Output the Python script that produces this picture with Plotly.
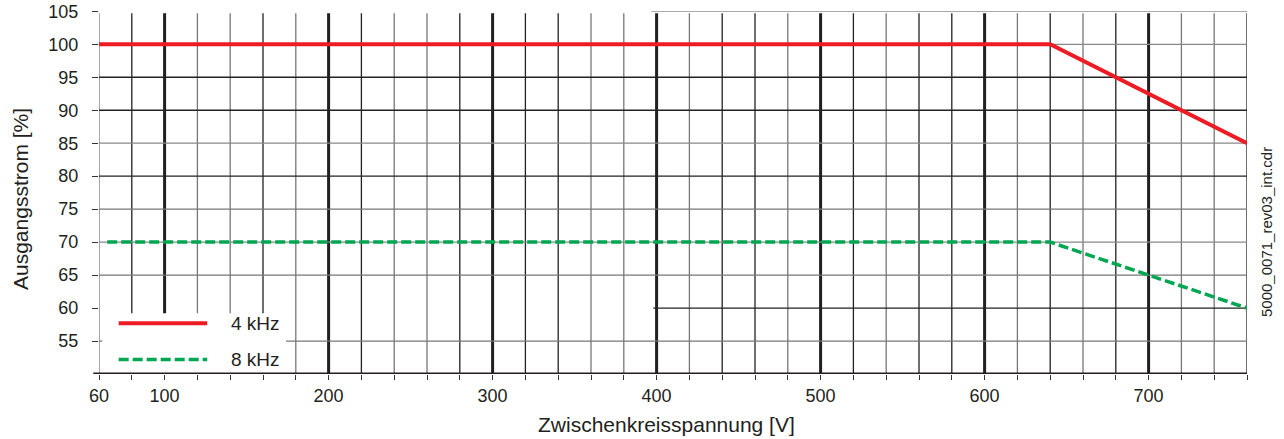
import plotly.graph_objects as go

# Kennlinien (Ausgangsstrom ueber Zwischenkreisspannung)
spannung_4khz = [60, 640, 760]
strom_4khz = [100, 100, 85]
spannung_8khz = [65, 640, 760]
strom_8khz = [70, 70, 60]

serien = ['4 kHz', '8 kHz']
farben = ['#ED1C24', '#00A651']

x_ticks = list(range(60, 761, 20))
y_ticks = list(range(55, 106, 5))

FONT = 'Liberation Sans, Arial, sans-serif'
INK = '#231f20'

fig = go.Figure()

fig.add_trace(go.Scatter(x=spannung_4khz, y=strom_4khz, mode='lines', name=serien[0],
                         line=dict(color=farben[0], width=4), showlegend=False))
fig.add_trace(go.Scatter(x=spannung_8khz, y=strom_8khz, mode='lines', name=serien[1],
                         line=dict(color=farben[1], width=3.5, dash='10px,4px'), showlegend=False))

shapes = []
# vertikale Gitterlinien
grau = ['#777', '#222', '#222', '#777', '#777', '#222']
for i, xv in enumerate(x_ticks):
    if xv % 100 == 0:
        shapes.append(dict(type='line', xref='x', yref='y', x0=xv, x1=xv, y0=50, y1=104.7,
                           line=dict(color=INK, width=3), layer='below'))
    else:
        shapes.append(dict(type='line', xref='x', yref='y', x0=xv, x1=xv, y0=50, y1=104.7,
                           line=dict(color=grau[i % len(grau)], width=1.3), layer='below'))

# horizontale Gitterlinien
h_farben = {55: '#777', 60: '#222', 65: '#777', 70: '#888', 75: '#777', 80: '#222',
            85: '#888', 90: '#222', 95: '#222', 100: '#888', 105: '#aaa'}
for yv in y_ticks:
    x0 = 60
    x1 = 760
    if yv == 105:
        x0 = 397
    if yv == 60:
        x0 = 398
        x1 = 763
    shapes.append(dict(type='line', xref='x', yref='y', x0=x0, x1=x1, y0=yv, y1=yv,
                       line=dict(color=h_farben[yv], width=1.3), layer='below'))

# weisser Legendenbereich
shapes.append(dict(type='rect', xref='x', yref='y', x0=62, x1=174, y0=50, y1=59.2,
                   fillcolor='white', line=dict(width=0), layer='below'))

# x-Achse
shapes.append(dict(type='line', xref='paper', yref='y', x0=-0.005, x1=1, y0=50, y1=50,
                   line=dict(color=INK, width=3), layer='above'))

# Legende
shapes.append(dict(type='line', xref='x', yref='y', x0=72, x1=126, y0=57.7, y1=57.7,
                   line=dict(color=farben[0], width=4)))
shapes.append(dict(type='line', xref='x', yref='y', x0=72, x1=126, y0=52.2, y1=52.2,
                   line=dict(color=farben[1], width=3.5, dash='10px,4px')))

annotations = [
    dict(x=139, y=57.7, xref='x', yref='y', text=serien[0], showarrow=False,
         xanchor='left', yanchor='middle', font=dict(family=FONT, size=19, color=INK)),
    dict(x=139, y=52.2, xref='x', yref='y', text=serien[1], showarrow=False,
         xanchor='left', yanchor='middle', font=dict(family=FONT, size=19, color=INK)),
    dict(x=(1266 - 99) / 1148, y=(374 - 232) / 363, xref='paper', yref='paper',
         text='5000_0071_rev03_int.cdr', showarrow=False, textangle=-90,
         xanchor='center', yanchor='middle',
         font=dict(family=FONT, size=15, color=INK)),
    dict(x=(666 - 99) / 1148, y=(374 - 424) / 363, xref='paper', yref='paper',
         text='Zwischenkreisspannung [V]', showarrow=False, xanchor='center', yanchor='middle',
         font=dict(family=FONT, size=21, color=INK)),
    dict(x=(20 - 99) / 1148, y=(374 - 199) / 363, xref='paper', yref='paper',
         text='Ausgangsstrom [%]', showarrow=False, textangle=-90,
         xanchor='center', yanchor='middle',
         font=dict(family=FONT, size=21, color=INK)),
]

fig.update_layout(
    width=1284, height=439,
    margin=dict(l=99, r=37, t=11, b=65, autoexpand=False),
    paper_bgcolor='white', plot_bgcolor='white',
    font=dict(family=FONT, size=18, color=INK),
    shapes=shapes,
    annotations=annotations,
    showlegend=False,
)

fig.update_xaxes(
    range=[60, 760], showgrid=False, zeroline=False, showline=False, automargin=False,
    tickmode='array', tickvals=x_ticks,
    ticktext=[str(v) if (v == 60 or v % 100 == 0) else '' for v in x_ticks],
    ticks='outside', ticklen=5, tickwidth=1.3, tickcolor='#333',
    ticklabeloverflow='allow',
    tickfont=dict(family=FONT, size=18, color=INK),
)
fig.update_yaxes(
    range=[50, 105.05], showgrid=False, zeroline=False, showline=False, automargin=False,
    tickmode='array', tickvals=y_ticks,
    ticks='outside', ticklen=6, tickwidth=1.3, tickcolor='#333',
    ticklabelstandoff=10, ticklabeloverflow='allow',
    tickfont=dict(family=FONT, size=18, color=INK),
)

# Seitenrand entfernen, damit das Bild genau das Fenster fuellt
fig.write_html('out.html', config={'displayModeBar': False},
               post_script="document.body.style.margin='0';")
